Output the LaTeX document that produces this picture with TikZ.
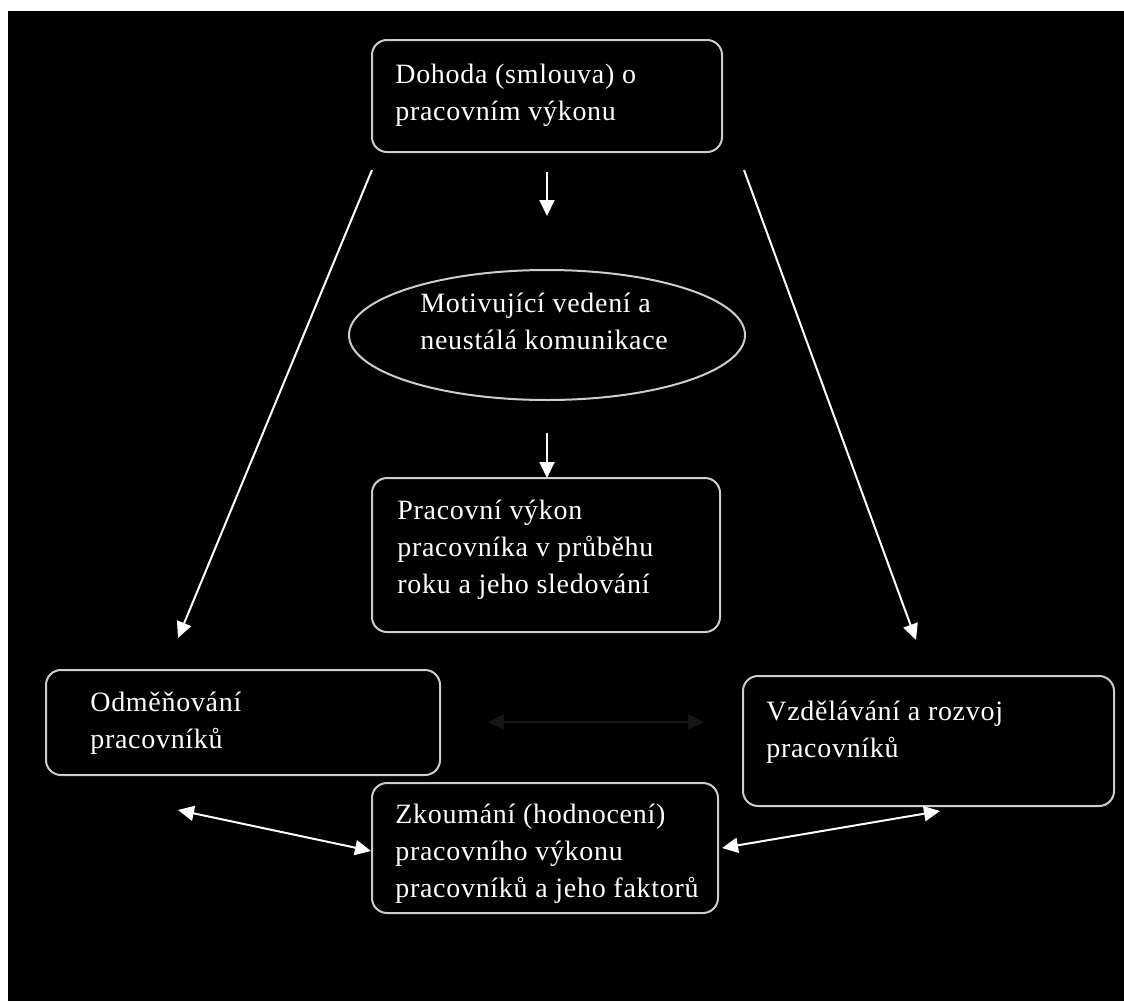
\documentclass[tikz,border=0pt]{standalone}
\usepackage{fontspec}
\setmainfont[LetterSpace=2.5]{Liberation Serif}
\usetikzlibrary{arrows.meta,shapes.geometric}
\definecolor{boxline}{RGB}{205,205,205}
\definecolor{darkarrow}{RGB}{22,22,22}
\tikzset{
  card/.style={draw=boxline, line width=1pt, rounded corners=7.5pt, fill=black, inner sep=0pt},
  oval/.style={draw=boxline, line width=1pt, ellipse, fill=black, inner sep=0pt},
  label text/.style={text=white, align=left, inner sep=0pt, anchor=west,
    font=\fontsize{14pt}{18.5pt}\selectfont},
  flow/.style={draw=white, line width=1pt, -{Triangle[length=8pt,width=7.5pt]}},
  both/.style={draw=white, line width=1pt, {Triangle[length=8pt,width=7.5pt]}-{Triangle[length=8pt,width=7.5pt]}},
  faint/.style={draw=darkarrow, line width=1pt, {Triangle[length=8pt,width=7.5pt]}-{Triangle[length=8pt,width=7.5pt]}}
}
\begin{document}
\begin{tikzpicture}[x=0.5pt,y=-0.5pt]
\useasboundingbox (0,0) rectangle (1124,1001);
\fill[white] (0,0) rectangle (1124,1001);
\fill[black] (8,11) rectangle (1124,1001);

% boxes
\node[card, minimum width=175pt, minimum height=56pt] (dohoda) at (547,96) {};
\node[oval, minimum width=198pt, minimum height=65pt] (motiv) at (547,335) {};
\node[card, minimum width=174pt, minimum height=77pt] (vykon) at (546,555) {};
\node[card, minimum width=197pt, minimum height=52.5pt] (odmena) at (243,722.5) {};
\node[card, minimum width=185.5pt, minimum height=65pt] (vzdel) at (928.5,741) {};
\node[card, minimum width=173pt, minimum height=65pt] (zkoum) at (545,848) {};

% texts
\node[label text] (dohodatext) at (395,95) {Dohoda (smlouva) o\\pracovním výkonu};
\node[label text] (motivtext) at (420,321) {Motivující vedení a\\neustálá komunikace};
\node[label text] (vykontext) at (397,550) {Pracovní výkon\\pracovníka v průběhu\\roku a jeho sledování};
\node[label text] (odmenatext) at (90,723) {Odměňování\\pracovníků};
\node[label text] (vzdeltext) at (766,732) {Vzdělávání a rozvoj\\pracovníků};
\node[label text] (zkoumtext) at (395,854) {Zkoumání (hodnocení)\\pracovního výkonu\\pracovníků a jeho faktorů};

% connector ends
\coordinate (t1) at (547,172);
\coordinate (t2) at (547,216);
\coordinate (m1) at (547,433);
\coordinate (m2) at (547,478);
\coordinate (l1) at (372,170);
\coordinate (l2) at (178,638);
\coordinate (r1) at (744,170);
\coordinate (r2) at (916,640);
\coordinate (h1) at (488,722);
\coordinate (h2) at (704,722);
\coordinate (bl1) at (178,810);
\coordinate (bl2) at (371,851);
\coordinate (br1) at (722,848);
\coordinate (br2) at (940,811);

\draw[flow] (t1) -- (t2);
\draw[flow] (m1) -- (m2);
\draw[flow] (l1) -- (l2);
\draw[flow] (r1) -- (r2);
\draw[faint] (h1) -- (h2);
\draw[both] (bl1) -- (bl2);
\draw[both] (br1) -- (br2);
\end{tikzpicture}
\end{document}
